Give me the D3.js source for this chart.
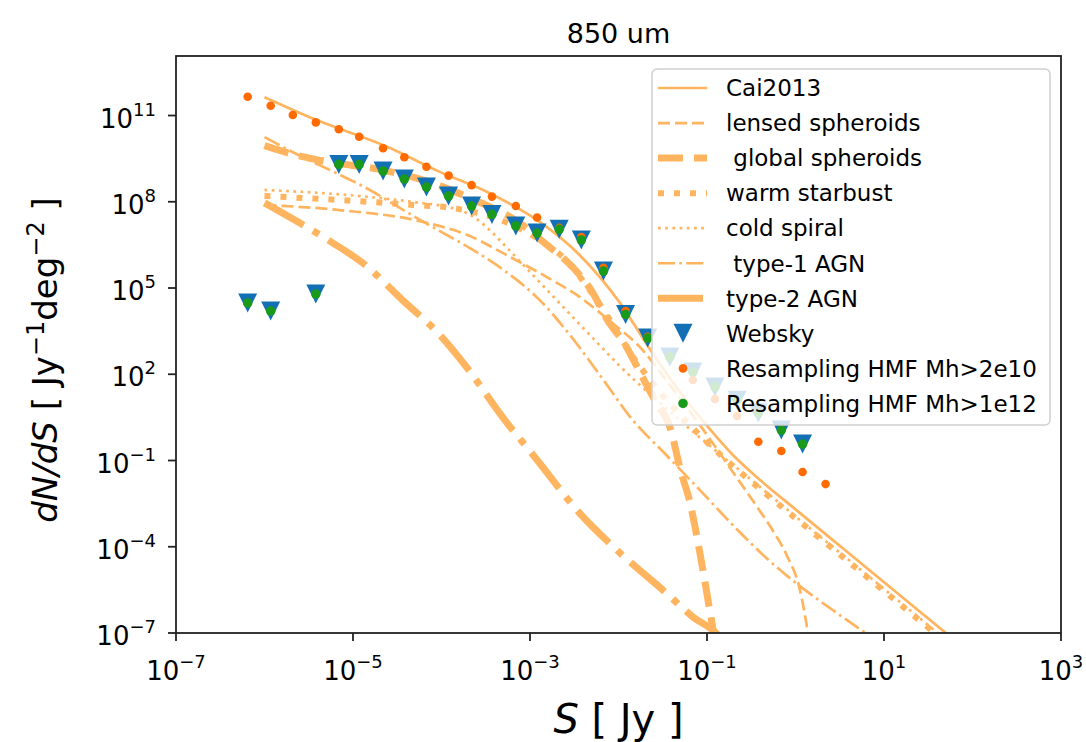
<!DOCTYPE html>
<html lang="en">
<head>
<meta charset="utf-8">
<title>850 um</title>
<script src="https://cdn.jsdelivr.net/npm/d3@7"></script>
<style>
  body { margin: 0; background: white; }
  text { font-family: "DejaVu Sans", sans-serif; fill: #000; }
</style>
</head>
<body>
<div id="container"></div>
<script>
// all values are log10: S in Jy, dN/dS in Jy^-1 deg^-2
const binLogS = [-6.19, -5.93, -5.68, -5.42, -5.16, -4.93, -4.66, -4.42, -4.17, -3.92, -3.66, -3.43, -3.16, -2.92,
  -2.67, -2.42, -2.17, -1.92, -1.67, -1.42, -1.16, -0.91, -0.66, -0.42, -0.16, 0.08, 0.34];
const hmf2e10 = [11.65, 11.34, 11.02, 10.76, 10.52, 10.26, 9.86, 9.55, 9.22, 8.91, 8.58, 8.18, 7.85, 7.45,
  7.09, 6.77, 5.70, 4.20, 3.30, 2.62, 1.80, 1.14, 0.55, -0.35, -0.67, -1.40, -1.82];
const websky = [4.48, 4.20, null, 4.79, 9.30, 9.30, 9.07, 8.79, 8.51, 8.20, 7.85, 7.56, 7.16, 6.91,
  7.04, 6.67, 5.59, 4.08, 3.26, 2.60, 2.08, 1.56, 1.10, 0.65, 0.06, -0.43, null];
const hmf1e12 = [4.48, 4.20, null, 4.79, 9.30, 9.30, 9.07, 8.79, 8.51, 8.20, 7.85, 7.56, 7.16, 6.91,
  7.04, 6.67, 5.59, 4.08, 3.26, 2.60, 2.08, 1.56, 1.10, 0.65, 0.06, -0.43, null];

// Cai2013 model, [logS, logN]
const cai2013 = [[-6.0, 11.64], [-5.41, 10.84], [-4.62, 9.92], [-4.02, 9.04], [-3.45, 8.29], [-2.89, 7.30],
  [-2.44, 6.15], [-1.99, 4.51], [-1.65, 2.90], [-1.31, 1.40], [-0.97, 0.10], [-0.71, -0.80], [-0.40, -1.68],
  [0.0, -2.70], [0.6, -4.22], [1.2, -5.74], [1.71, -7.03], [1.9, -7.51]];
const lensedSph = [[-6.0, 7.89], [-5.15, 7.71], [-4.21, 7.30], [-3.65, 6.77], [-3.31, 6.22], [-2.81, 5.38],
  [-2.44, 4.69], [-2.07, 3.78], [-1.76, 2.95], [-1.42, 1.63], [-1.08, 0.23], [-0.67, -1.57], [-0.41, -2.72],
  [-0.26, -3.42], [-0.10, -4.29], [0.05, -5.50], [0.14, -7.0], [0.16, -7.42]];
const globalSph = [[-6.0, 9.95], [-5.64, 9.62], [-5.30, 9.40], [-4.66, 9.10], [-4.17, 8.72], [-3.66, 8.10],
  [-3.15, 7.33], [-2.81, 6.50], [-2.51, 5.70], [-2.29, 4.83], [-2.14, 3.96], [-1.91, 2.95], [-1.76, 2.08],
  [-1.59, 1.10], [-1.42, 0.17], [-1.29, -1.44], [-1.20, -2.37], [-1.08, -4.22], [-0.95, -6.55], [-0.91, -7.24]];
const warmSB = [[-6.0, 8.20], [-5.15, 8.06], [-4.32, 7.89], [-3.87, 7.78], [-3.34, 7.37], [-2.89, 6.67],
  [-2.63, 6.08], [-2.25, 4.60], [-1.79, 2.40], [-1.46, 1.12], [-1.12, 0.0], [-0.71, -1.18], [-0.33, -2.17],
  [0.05, -3.13], [0.65, -4.65], [1.2, -6.05], [1.63, -7.14], [1.8, -7.57]];
const coldSpiral = [[-6.0, 8.41], [-5.04, 8.23], [-4.24, 7.96], [-3.9, 7.8], [-3.65, 7.5], [-3.45, 7.0],
  [-3.26, 6.4], [-2.89, 5.2], [-2.52, 4.0], [-2.21, 3.0], [-1.99, 2.3], [-1.53, 1.0], [-1.08, -0.2],
  [-0.52, -1.62], [0.05, -3.07], [0.61, -4.48], [1.18, -5.92], [1.68, -7.18], [1.85, -7.6]];
const agn1 = [[-6.0, 10.25], [-5.60, 9.60], [-5.19, 9.0], [-4.81, 8.41], [-4.43, 7.71], [-4.06, 7.05],
  [-3.68, 6.39], [-3.30, 5.63], [-2.89, 4.58], [-2.55, 3.37], [-2.21, 1.97], [-1.84, 0.41], [-1.46, -0.81],
  [-1.08, -2.03], [-0.71, -3.24], [-0.33, -4.39], [0.05, -5.37], [0.42, -6.2], [0.84, -7.10]];
const agn2 = [[-6.0, 7.96], [-5.60, 7.26], [-5.23, 6.57], [-4.89, 5.87], [-4.44, 4.58], [-4.02, 3.37],
  [-3.71, 2.22], [-3.31, 0.51], [-2.92, -0.98], [-2.44, -2.83], [-2.02, -4.11], [-1.46, -5.61], [-1.16, -6.44],
  [-0.90, -7.0], [-0.83, -7.24]];

const xTicks = [-7, -5, -3, -1, 1, 3];
const yTicks = [-7, -4, -1, 2, 5, 8, 11];

const lineColor = "#ffb45f";
const models = [
  {label: "Cai2013", data: cai2013, width: 2.7, dash: null},
  {label: "lensed spheroids", data: lensedSph, width: 2.7, dash: "12,5"},
  {label: " global spheroids", data: globalSph, width: 7, dash: "25,11"},
  {label: "warm starbust", data: warmSB, width: 6, dash: "6,10"},
  {label: "cold spiral", data: coldSpiral, width: 2.7, dash: "2.7,4.5"},
  {label: " type-1 AGN", data: agn1, width: 2.7, dash: "17,4.3,2.7,4.3"},
  {label: "type-2 AGN", data: agn2, width: 7, dash: "45,11,7,11"}
];

const width = 1086, height = 742;
const plot = {left: 176, right: 1061, top: 56, bottom: 633};

const svg = d3.select("#container").append("svg")
  .attr("width", width).attr("height", height);

const x = d3.scaleLog().domain([1e-7, 1e3]).range([plot.left, plot.right]);
const y = d3.scaleLog().domain([1e-7, Math.pow(10, 13.07)]).range([plot.bottom, plot.top]);

svg.append("clipPath").attr("id", "clip").append("rect")
  .attr("x", plot.left).attr("y", plot.top)
  .attr("width", plot.right - plot.left).attr("height", plot.bottom - plot.top);

const line = d3.line()
  .x(d => x(Math.pow(10, d[0])))
  .y(d => y(Math.pow(10, d[1])))
  .curve(d3.curveMonotoneX);

const curves = svg.append("g").attr("clip-path", "url(#clip)");
models.forEach(m => {
  curves.append("path")
    .attr("d", line(m.data))
    .attr("fill", "none")
    .attr("stroke", lineColor)
    .attr("stroke-width", m.width)
    .attr("stroke-dasharray", m.dash);
});

// matplotlib style "v" marker, centred on its bounding box
const tri = "M0,9.5L-9.5,-9.5L9.5,-9.5Z";
const pts = svg.append("g").attr("clip-path", "url(#clip)");
binLogS.forEach((s, i) => {
  if (websky[i] === null) return;
  pts.append("path").attr("d", tri)
    .attr("transform", `translate(${x(Math.pow(10, s))},${y(Math.pow(10, websky[i]))})`)
    .attr("fill", "#1470b4");
});
binLogS.forEach((s, i) => {
  pts.append("circle").attr("cx", x(Math.pow(10, s))).attr("cy", y(Math.pow(10, hmf2e10[i])))
    .attr("r", 4.3).attr("fill", "#ff6b00");
});
binLogS.forEach((s, i) => {
  if (hmf1e12[i] === null) return;
  pts.append("circle").attr("cx", x(Math.pow(10, s))).attr("cy", y(Math.pow(10, hmf1e12[i])))
    .attr("r", 4.8).attr("fill", "#1a9a1a");
});

// axes frame and ticks
svg.append("rect")
  .attr("x", plot.left).attr("y", plot.top)
  .attr("width", plot.right - plot.left).attr("height", plot.bottom - plot.top)
  .attr("fill", "none").attr("stroke", "#222").attr("stroke-width", 1.8);

function sup(t, e, big, small, rise) {
  t.append("tspan").attr("font-size", big).text("10");
  t.append("tspan").attr("font-size", small).attr("dy", -rise)
    .text(e < 0 ? "\u2212" + (-e) : String(e));
}

xTicks.forEach(e => {
  const px = x(Math.pow(10, e));
  svg.append("line").attr("x1", px).attr("x2", px).attr("y1", plot.bottom).attr("y2", plot.bottom + 8)
    .attr("stroke", "#222").attr("stroke-width", 1.8);
  const t = svg.append("text").attr("x", px).attr("y", 680).attr("text-anchor", "middle");
  sup(t, e, 26, 18, 12);
});
yTicks.forEach(e => {
  const py = y(Math.pow(10, e));
  svg.append("line").attr("x1", plot.left - 8).attr("x2", plot.left).attr("y1", py).attr("y2", py)
    .attr("stroke", "#222").attr("stroke-width", 1.8);
  const t = svg.append("text").attr("x", 156).attr("y", py + 12).attr("text-anchor", "end");
  sup(t, e, 26, 18, 12);
});

// title and axis labels
svg.append("text").attr("x", (plot.left + plot.right) / 2).attr("y", 43)
  .attr("text-anchor", "middle").attr("font-size", 27).text("850 um");

const xl = svg.append("text").attr("x", (plot.left + plot.right) / 2).attr("y", 733)
  .attr("text-anchor", "middle").attr("font-size", 40);
xl.append("tspan").attr("font-style", "italic").text("S");
xl.append("tspan").text(" [ Jy ]");

const yl = svg.append("text").attr("transform", "translate(57,360) rotate(-90)")
  .attr("text-anchor", "middle").attr("font-size", 34);
yl.append("tspan").attr("font-style", "italic").text("dN/dS");
yl.append("tspan").text(" [ Jy");
yl.append("tspan").attr("font-size", 24).attr("dy", -13).text("\u22121");
yl.append("tspan").attr("dy", 13).text("deg");
yl.append("tspan").attr("font-size", 24).attr("dy", -13).text("\u22122");
yl.append("tspan").attr("dy", 13).text(" ]");

// legend
const leg = svg.append("g");
leg.append("rect").attr("x", 652).attr("y", 69).attr("width", 398).attr("height", 356)
  .attr("rx", 5).attr("fill", "white").attr("fill-opacity", 0.8)
  .attr("stroke", "#d0d0d0").attr("stroke-width", 1.5);

const rowY = i => 88 + i * 35.05;
models.forEach((m, i) => {
  leg.append("line").attr("x1", 658).attr("x2", 707).attr("y1", rowY(i)).attr("y2", rowY(i))
    .attr("stroke", lineColor).attr("stroke-width", m.width).attr("stroke-dasharray", m.dash);
  leg.append("text").attr("x", 726).attr("y", rowY(i)).attr("dy", "0.36em")
    .attr("font-size", 23).attr("xml:space", "preserve").style("white-space", "pre").text(m.label);
});
const markerRows = [
  {label: "Websky", draw: g => g.append("path").attr("d", tri).attr("fill", "#1470b4")
      .attr("transform", `translate(683,${rowY(7)})`)},
  {label: "Resampling HMF Mh>2e10", draw: g => g.append("circle").attr("cx", 683).attr("cy", rowY(8))
      .attr("r", 4.3).attr("fill", "#ff6b00")},
  {label: "Resampling HMF Mh>1e12", draw: g => g.append("circle").attr("cx", 683).attr("cy", rowY(9))
      .attr("r", 4.8).attr("fill", "#1a9a1a")}
];
markerRows.forEach((r, k) => {
  r.draw(leg);
  leg.append("text").attr("x", 726).attr("y", rowY(7 + k)).attr("dy", "0.36em")
    .attr("font-size", 23).text(r.label);
});
</script>
</body>
</html>
